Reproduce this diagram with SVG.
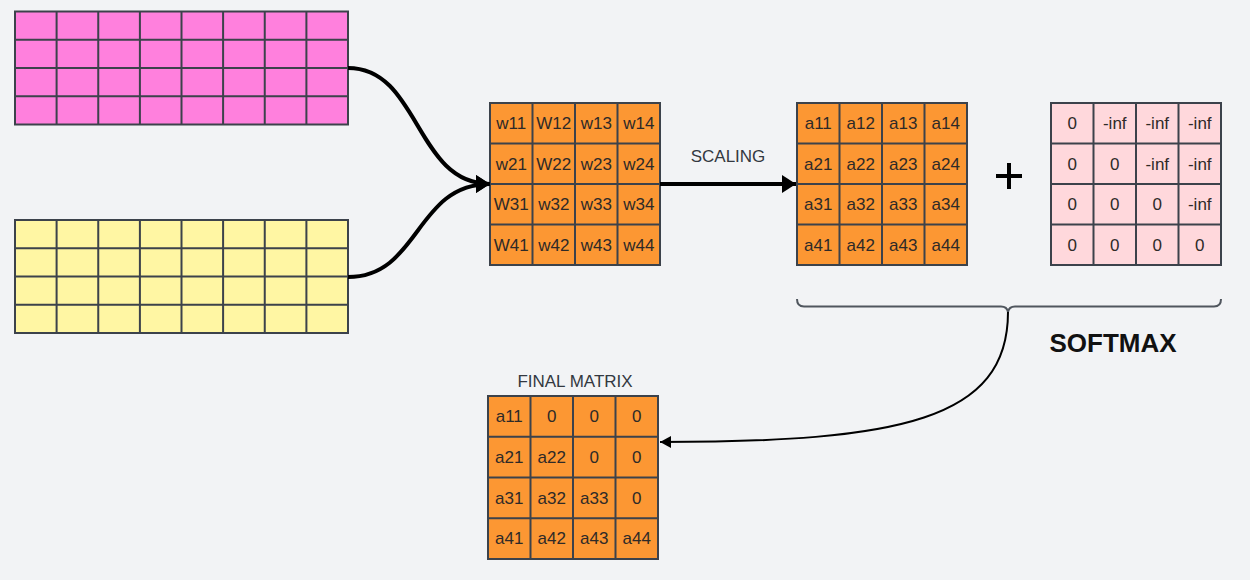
<svg xmlns="http://www.w3.org/2000/svg" width="1250" height="580" viewBox="0 0 1250 580">
<style>
.grid{stroke:#3c424b;stroke-width:2;fill:none}
.or{fill:#fc9733}
.mk{fill:#ffd8dc}
.t{font-family:"Liberation Sans",Arial,sans-serif;font-size:17px;fill:#2e2a28;text-anchor:middle}
.lbl{font-family:"Liberation Sans",Arial,sans-serif;font-size:17px;fill:#333840;text-anchor:middle}
.conn{fill:none;stroke:#000}
</style>
<defs>
<marker id="big" markerUnits="userSpaceOnUse" markerWidth="16" markerHeight="18" refX="14" refY="9" orient="auto"><path d="M0,0 L14,9 L0,18 Z" fill="#000"/></marker>
<marker id="small" markerUnits="userSpaceOnUse" markerWidth="12" markerHeight="12" refX="11" refY="6" orient="auto"><path d="M0,0 L11,6 L0,12 Z" fill="#000"/></marker>
</defs>
<rect width="1250" height="580" fill="#f2f3f5"/>

<g id="pink-grid">
<rect x="15" y="11.5" width="333" height="113" fill="#ff80dd"/>
<path class="grid" d="M15,11.5H348V124.5H15Z M15,39.75H348 M15,68H348 M15,96.25H348 M56.6,11.5V124.5 M98.25,11.5V124.5 M139.9,11.5V124.5 M181.5,11.5V124.5 M223.1,11.5V124.5 M264.75,11.5V124.5 M306.4,11.5V124.5"/>
</g>

<g id="yellow-grid">
<rect x="15" y="220" width="333" height="113" fill="#fff6a3"/>
<path class="grid" d="M15,220H348V333H15Z M15,248.25H348 M15,276.5H348 M15,304.75H348 M56.6,220V333 M98.25,220V333 M139.9,220V333 M181.5,220V333 M223.1,220V333 M264.75,220V333 M306.4,220V333"/>
</g>

<g id="w-matrix">
<rect x="490" y="103" width="170" height="162" class="or"/>
<path class="grid" d="M490,103H660V265H490Z M490,143.5H660 M490,184H660 M490,224.5H660 M532.5,103V265 M575,103V265 M617.5,103V265"/>
<text class="t" x="511.25" y="129">w11</text><text class="t" x="553.75" y="129">W12</text><text class="t" x="596.25" y="129">w13</text><text class="t" x="638.75" y="129">w14</text>
<text class="t" x="511.25" y="170">w21</text><text class="t" x="553.75" y="170">W22</text><text class="t" x="596.25" y="170">w23</text><text class="t" x="638.75" y="170">w24</text>
<text class="t" x="511.25" y="210">W31</text><text class="t" x="553.75" y="210">w32</text><text class="t" x="596.25" y="210">w33</text><text class="t" x="638.75" y="210">w34</text>
<text class="t" x="511.25" y="251">W41</text><text class="t" x="553.75" y="251">w42</text><text class="t" x="596.25" y="251">w43</text><text class="t" x="638.75" y="251">w44</text>
</g>

<g id="a-matrix">
<rect x="797" y="103" width="170" height="162" class="or"/>
<path class="grid" d="M797,103H967V265H797Z M797,143.5H967 M797,184H967 M797,224.5H967 M839.5,103V265 M882,103V265 M924.5,103V265"/>
<text class="t" x="818.25" y="129">a11</text><text class="t" x="860.75" y="129">a12</text><text class="t" x="903.25" y="129">a13</text><text class="t" x="945.75" y="129">a14</text>
<text class="t" x="818.25" y="170">a21</text><text class="t" x="860.75" y="170">a22</text><text class="t" x="903.25" y="170">a23</text><text class="t" x="945.75" y="170">a24</text>
<text class="t" x="818.25" y="210">a31</text><text class="t" x="860.75" y="210">a32</text><text class="t" x="903.25" y="210">a33</text><text class="t" x="945.75" y="210">a34</text>
<text class="t" x="818.25" y="251">a41</text><text class="t" x="860.75" y="251">a42</text><text class="t" x="903.25" y="251">a43</text><text class="t" x="945.75" y="251">a44</text>
</g>

<g id="plus">
<path d="M996,176H1022 M1009,163V189" stroke="#000" stroke-width="4" fill="none"/>
</g>

<g id="mask-matrix">
<rect x="1051" y="103" width="170" height="162" class="mk"/>
<path class="grid" d="M1051,103H1221V265H1051Z M1051,143.5H1221 M1051,184H1221 M1051,224.5H1221 M1093.5,103V265 M1136,103V265 M1178.5,103V265"/>
<text class="t" x="1072.25" y="129">0</text><text class="t" x="1114.75" y="129">-inf</text><text class="t" x="1157.25" y="129">-inf</text><text class="t" x="1199.75" y="129">-inf</text>
<text class="t" x="1072.25" y="170">0</text><text class="t" x="1114.75" y="170">0</text><text class="t" x="1157.25" y="170">-inf</text><text class="t" x="1199.75" y="170">-inf</text>
<text class="t" x="1072.25" y="210">0</text><text class="t" x="1114.75" y="210">0</text><text class="t" x="1157.25" y="210">0</text><text class="t" x="1199.75" y="210">-inf</text>
<text class="t" x="1072.25" y="251">0</text><text class="t" x="1114.75" y="251">0</text><text class="t" x="1157.25" y="251">0</text><text class="t" x="1199.75" y="251">0</text>
</g>

<g id="brace">
<path d="M797,299 Q797,306.5 804,306.5 L1001,306.5 Q1007,306.5 1008,312 Q1009,306.5 1015,306.5 L1214,306.5 Q1221,306.5 1221,299" fill="none" stroke="#50565e" stroke-width="2"/>
<text x="1113" y="352" font-family="Liberation Sans,Arial,sans-serif" font-weight="bold" font-size="26" fill="#111" text-anchor="middle">SOFTMAX</text>
</g>

<g id="final-matrix">
<text class="lbl" x="575" y="387">FINAL MATRIX</text>
<rect x="488" y="396" width="170" height="163" class="or"/>
<path class="grid" d="M488,396H658V559H488Z M488,436.75H658 M488,477.5H658 M488,518.25H658 M530.5,396V559 M573,396V559 M615.5,396V559"/>
<text class="t" x="509.25" y="422">a11</text><text class="t" x="551.75" y="422">0</text><text class="t" x="594.25" y="422">0</text><text class="t" x="636.75" y="422">0</text>
<text class="t" x="509.25" y="463">a21</text><text class="t" x="551.75" y="463">a22</text><text class="t" x="594.25" y="463">0</text><text class="t" x="636.75" y="463">0</text>
<text class="t" x="509.25" y="503.5">a31</text><text class="t" x="551.75" y="503.5">a32</text><text class="t" x="594.25" y="503.5">a33</text><text class="t" x="636.75" y="503.5">0</text>
<text class="t" x="509.25" y="544">a41</text><text class="t" x="551.75" y="544">a42</text><text class="t" x="594.25" y="544">a43</text><text class="t" x="636.75" y="544">a44</text>
</g>

<g id="connectors">
<path class="conn" stroke-width="4" d="M348,68 C420,68 415,184 490,184" marker-end="url(#big)"/>
<path class="conn" stroke-width="4" d="M348,277 C420,277 415,184 490,184" marker-end="url(#big)"/>
<path class="conn" stroke-width="4" d="M660,184 L796,184" marker-end="url(#big)"/>
<text class="lbl" x="728" y="162">SCALING</text>
<path class="conn" stroke-width="2" d="M1008,312 C1008,420 900,442 660,442" marker-end="url(#small)"/>
</g>
</svg>
